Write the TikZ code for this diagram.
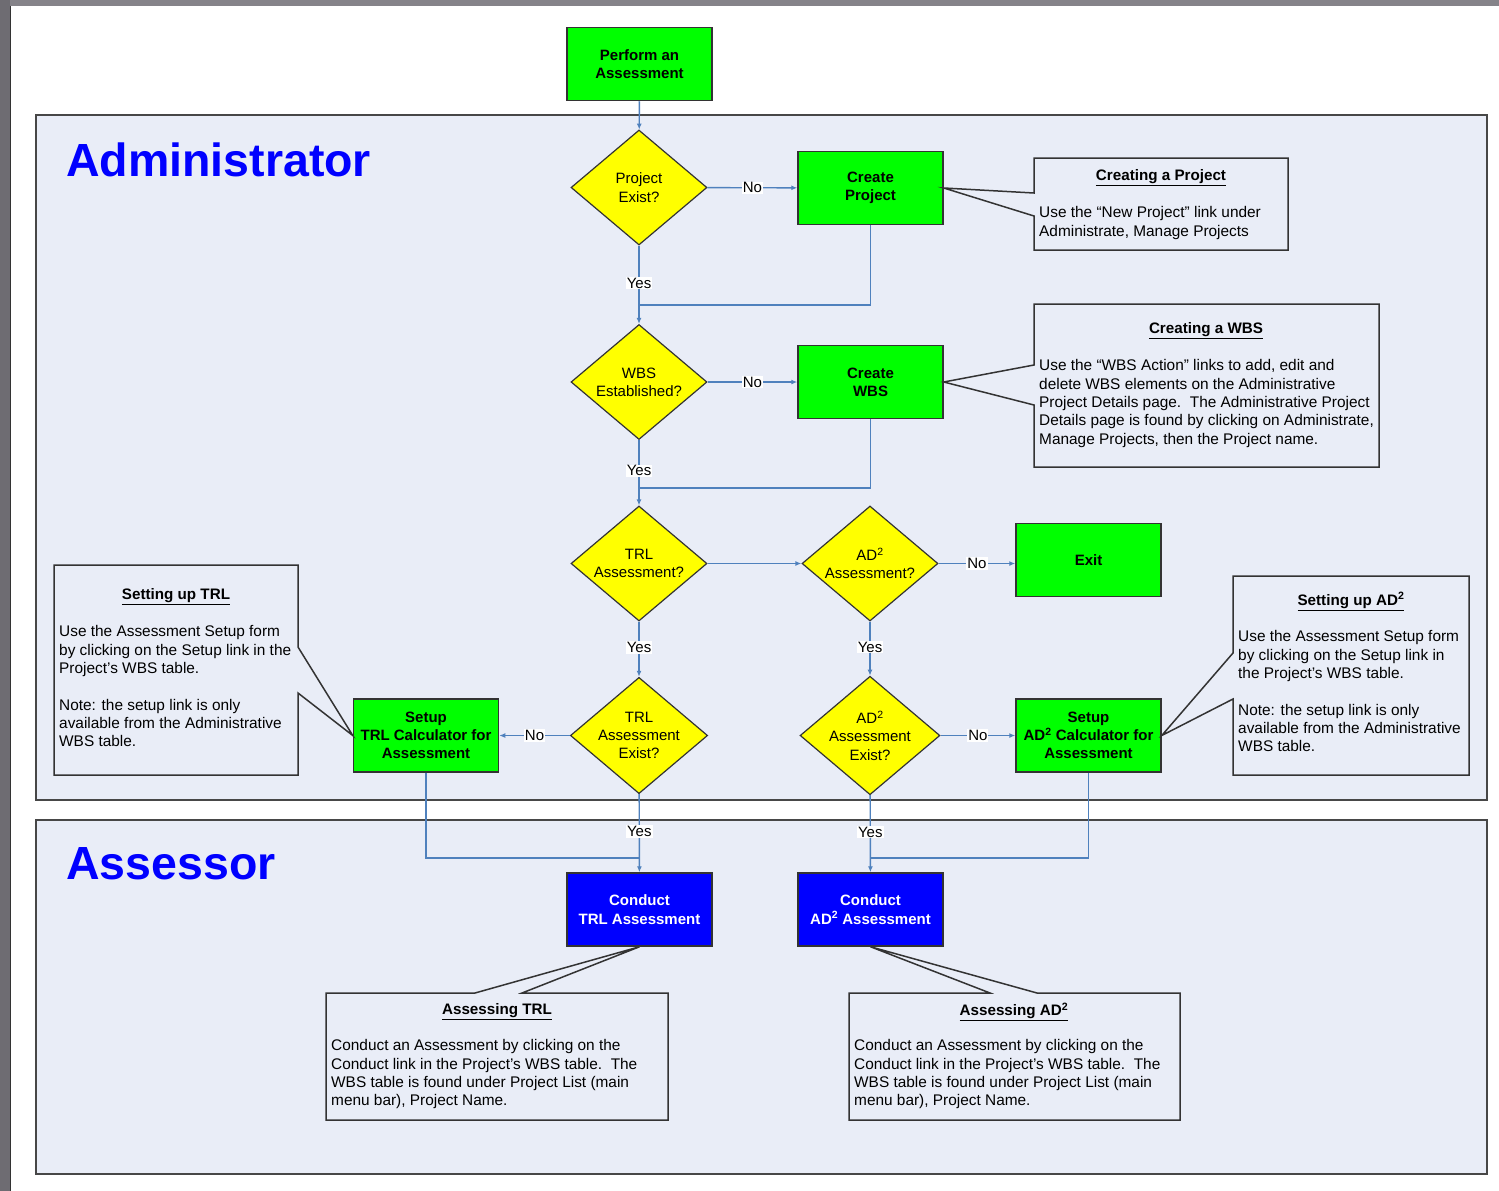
\documentclass[tikz,border=0pt]{standalone}
\usepackage{fontspec}
\setmainfont{Liberation Sans}
\usetikzlibrary{shapes.geometric,arrows.meta}
\definecolor{lanefill}{HTML}{E9EDF7}
\definecolor{conncol}{HTML}{4F81BD}
\definecolor{edgecol}{HTML}{333333}
\definecolor{grnfill}{HTML}{00FF00}
\definecolor{bluefill}{HTML}{0000FF}
\definecolor{yelfill}{HTML}{FFFF00}
\definecolor{stripcol}{HTML}{6E6C72}
\definecolor{topcol}{HTML}{858389}
\begin{document}
\begin{tikzpicture}[x=1pt,y=-1pt,
 font=\fontsize{15}{18.3}\selectfont,
 box/.style={draw=edgecol,line width=1.5pt,minimum width=145pt,minimum height=73pt,inner sep=0pt,align=center,font=\fontsize{15}{18.3}\selectfont\bfseries},
 gbox/.style={box,fill=grnfill},
 bbox/.style={box,fill=bluefill,text=white},
 dec/.style={diamond,draw=edgecol,line width=1.2pt,fill=yelfill,minimum width=136pt,minimum height=115pt,inner sep=0pt,align=center,aspect=1.18},
 conn/.style={draw=conncol,line width=1.4pt,-{Latex[length=6pt,width=5pt]}},
 link/.style={draw=conncol,line width=1.4pt},
 lbl/.style={fill=white,inner sep=1pt,font=\fontsize{15}{18}\selectfont},
 lane/.style={draw=edgecol!90,line width=2pt,fill=lanefill},
 callout/.style={draw=edgecol,line width=1.5pt,fill=lanefill,line join=miter},
 ctitle/.style={font=\fontsize{15.2}{18}\selectfont\bfseries,inner sep=0pt},
 cbody/.style={align=left,inner sep=0pt,anchor=north west,font=\fontsize{15.4}{18.3}\selectfont},
 lanetitle/.style={text=bluefill,font=\fontsize{46.5}{56}\selectfont\bfseries,anchor=base west,inner sep=0pt}
]
\useasboundingbox (0,0) rectangle (1499,1191);
% page background
\fill[white] (0,0) rectangle (1499,1191);
\fill[topcol] (0,0) rectangle (1499,6);
\fill[stripcol] (0,0) rectangle (10,1191);
\draw[black!80,line width=1pt] (10.5,6) -- (10.5,1191);
% lanes
\filldraw[lane] (36,115) rectangle (1487,800);
\filldraw[lane] (36,820) rectangle (1487,1174);
\node[lanetitle] (tadmin) at (66,176) {Administrator};
\node[lanetitle] (tass) at (66,879) {Assessor};
% nodes
\node[gbox] (perf) at (639.5,64) {Perform an\\Assessment};
\node[dec] (q1) at (639,187.5) {Project\\Exist?};
\node[gbox] (cproj) at (870.5,188) {Create\\Project};
\node[dec] (q2) at (639,382) {WBS\\Established?};
\node[gbox] (cwbs) at (870.5,382) {Create\\WBS};
\node[dec] (q3) at (639,563.5) {TRL\\Assessment?};
\node[dec] (q4) at (870,563.5) {AD\textsuperscript{2}\\Assessment?};
\node[gbox] (exit) at (1088.5,560) {Exit};
\node[dec] (q5) at (639,735.5) {TRL\\Assessment\\Exist?};
\node[dec] (q6) at (870,735.5) {AD\textsuperscript{2}\\Assessment\\Exist?};
\node[gbox] (strl) at (426,735.5) {Setup\\TRL Calculator for\\Assessment};
\node[gbox] (sad) at (1088.5,735.5) {Setup\\AD\textsuperscript{2} Calculator for\\Assessment};
\node[bbox] (ctrl) at (639.5,909.5) {Conduct\\TRL Assessment};
\node[bbox] (cad) at (870.5,909.5) {Conduct\\AD\textsuperscript{2} Assessment};
% junction points
\coordinate (j1) at (639,305);
\coordinate (j2) at (639,488);
\coordinate (j3) at (639,858);
\coordinate (j4) at (870,858);
% connectors
\draw[conn] (perf) -- (q1);
\draw[conn] (q1) -- node[lbl]{No} (cproj);
\draw[conn] (q1) -- node[lbl,pos=0.48]{Yes} (q2);
\draw[link] (cproj.south) |- (j1);
\draw[conn] (q2) -- node[lbl]{No} (cwbs);
\draw[conn] (q2) -- node[lbl,pos=0.47]{Yes} (q3);
\draw[link] (cwbs.south) |- (j2);
\draw[conn] (q3) -- (q4);
\draw[conn] (q4.east) -- node[lbl]{No} (exit.west |- q4.east);
\draw[conn] (q3) -- node[lbl,pos=0.47]{Yes} (q5);
\draw[conn] (q4) -- node[lbl,pos=0.47]{Yes} (q6);
\draw[conn] (q5) -- node[lbl]{No} (strl);
\draw[conn] (q6) -- node[lbl]{No} (sad);
\draw[conn] (q5) -- node[lbl,pos=0.48]{Yes} (ctrl);
\draw[conn] (q6) -- node[lbl,pos=0.48]{Yes} (cad);
\draw[link] (strl.south) |- (j3);
\draw[link] (sad.south) |- (j4);
% callouts
\filldraw[callout] (1034,158) -- (1288,158) -- (1288,250) -- (1034,250) -- (1034,216) -- (cproj.east) -- (1034,193) -- cycle;
\node[ctitle] (t1) at (1161,178) {\underline{Creating a Project}};
\node[cbody] (b1) at (1039,206.5) {Use the “New Project” link under\\Administrate, Manage Projects};
\filldraw[callout] (1034,304) -- (1379,304) -- (1379,467) -- (1034,467) -- (1034,405) -- (cwbs.east) -- (1034,365) -- cycle;
\node[ctitle] (t2) at (1206,331) {\underline{Creating a WBS}};
\node[cbody] (b2) at (1039,359.5) {Use the “WBS Action” links to add, edit and\\delete WBS elements on the Administrative\\Project Details page.\ \ The Administrative Project\\Details page is found by clicking on Administrate,\\Manage Projects, then the Project name.};
\filldraw[callout] (54,565) -- (298,565) -- (298,647) -- (strl.west) -- (298,693) -- (298,775) -- (54,775) -- cycle;
\node[ctitle] (t3) at (176,597) {\underline{Setting up TRL}};
\node[cbody] (b3) at (59,625.5) {Use the Assessment Setup form\\by clicking on the Setup link in the\\Project’s WBS table.\\[18.3pt]Note: the setup link is only\\available from the Administrative\\WBS table.};
\filldraw[callout] (1233,576) -- (1469,576) -- (1469,775) -- (1233,775) -- (1233,699) -- (sad.east) -- (1233,653) -- cycle;
\node[ctitle] (t4) at (1351,601.5) {\underline{Setting up AD\textsuperscript{2}}};
\node[cbody] (b4) at (1238,630.5) {Use the Assessment Setup form\\by clicking on the Setup link in\\the Project’s WBS table.\\[18.3pt]Note: the setup link is only\\available from the Administrative\\WBS table.};
\filldraw[callout] (326,993) -- (475,993) -- (ctrl.south) -- (522,993) -- (668,993) -- (668,1120) -- (326,1120) -- cycle;
\node[ctitle] (t5) at (497,1012) {\underline{Assessing TRL}};
\node[cbody] (b5) at (331,1039.5) {Conduct an Assessment by clicking on the\\Conduct link in the Project’s WBS table.\ \ The\\WBS table is found under Project List (main\\menu bar), Project Name.};
\filldraw[callout] (849,993) -- (990,993) -- (cad.south) -- (1037,993) -- (1180,993) -- (1180,1120) -- (849,1120) -- cycle;
\node[ctitle] (t6) at (1014,1011.5) {\underline{Assessing AD\textsuperscript{2}}};
\node[cbody] (b6) at (854,1039.5) {Conduct an Assessment by clicking on the\\Conduct link in the Project’s WBS table.\ \ The\\WBS table is found under Project List (main\\menu bar), Project Name.};
\end{tikzpicture}
\end{document}
